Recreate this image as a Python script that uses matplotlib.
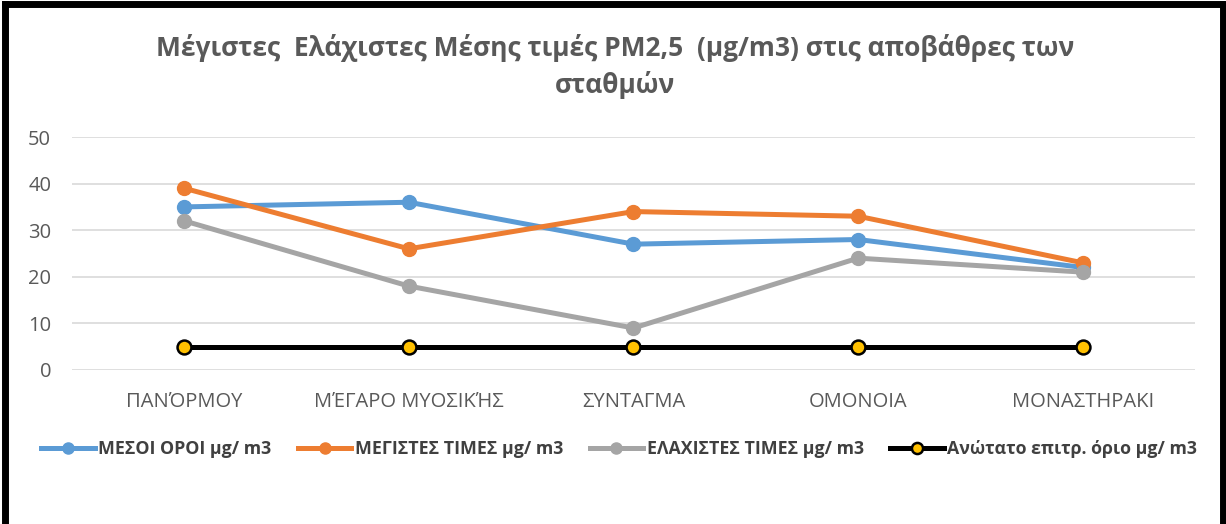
import numpy as np
import matplotlib.pyplot as plt
from matplotlib.lines import Line2D

plt.rcParams['font.family'] = ['Open Sans', 'DejaVu Sans']

stations = ["ΠΑΝΌΡΜΟΥ", "ΜΈΓΑΡΟ ΜΥΟΣΙΚΉΣ", "ΣΥΝΤΑΓΜΑ", "ΟΜΟΝΟΙΑ", "ΜΟΝΑΣΤΗΡΑΚΙ"]
mesoi = [35, 36, 27, 28, 22]
megistes = [39, 26, 34, 33, 23]
elaxistes = [32, 18, 9, 24, 21]
orio = [5, 5, 5, 5, 5]

labels = ["ΜΕΣΟΙ ΟΡΟΙ μg/ m3", "ΜΕΓΙΣΤΕΣ ΤΙΜΕΣ μg/ m3",
          "ΕΛΑΧΙΣΤΕΣ ΤΙΜΕΣ μg/ m3", "Ανώτατο επιτρ. όριο μg/ m3"]

fig = plt.figure(figsize=(12.26, 5.24), dpi=100)
ax = fig.add_axes([0.0587, 0.294, 0.916, 0.4445])

x = np.arange(len(stations))
ax.plot(x, mesoi, color='#5B9BD5', lw=3.6, marker='o', ms=10, label=labels[0], zorder=3)
ax.plot(x, megistes, color='#ED7D31', lw=3.6, marker='o', ms=10, label=labels[1], zorder=3)
ax.plot(x, elaxistes, color='#A5A5A5', lw=3.6, marker='o', ms=10, label=labels[2], zorder=3)
ax.plot(x, orio, color='black', lw=3.6, marker='o', ms=10, mfc='#FFC000',
        mec='black', mew=1.8, label=labels[3], zorder=3)

ax.set_xlim(-0.5, len(stations) - 0.5)
ax.set_ylim(0, 50)
ax.set_yticks(range(0, 51, 10))
ax.set_xticks(x)
ax.set_xticklabels(stations)
ax.grid(axis='y', color='#D9D9D9', lw=1.2)
ax.set_axisbelow(True)
for s in ax.spines.values():
    s.set_visible(False)
ax.tick_params(length=0, labelsize=14.5, labelcolor='#595959')
ax.tick_params(axis='x', pad=16)
ax.tick_params(axis='y', pad=15)

fig.text(0.502, 0.908, "Μέγιστες  Ελάχιστες Μέσης τιμές PM2,5  (μg/m3) στις αποβάθρες των",
         ha='center', va='center', fontsize=19, fontweight='bold', color='#595959')
fig.text(0.502, 0.838, "σταθμών", ha='center', va='center', fontsize=19,
         fontweight='bold', color='#595959')

leg = fig.legend(loc='center', bbox_to_anchor=(0.505, 0.143), ncol=4, frameon=False,
                 handlelength=3.0, columnspacing=1.5, handletextpad=0.2,
                 markerscale=0.8,
                 prop={'weight': 'bold', 'size': 12.8})
for t in leg.get_texts():
    t.set_color('#404040')

# black frame around the chart
fig.add_artist(Line2D([0.004, 0.996], [0.992, 0.992], color='black', lw=5, transform=fig.transFigure))
fig.add_artist(Line2D([0.004, 0.004], [0, 0.992], color='black', lw=5, transform=fig.transFigure))
fig.add_artist(Line2D([0.9975, 0.9975], [0, 0.992], color='black', lw=5, transform=fig.transFigure))

fig.savefig('out.png', dpi=100)
